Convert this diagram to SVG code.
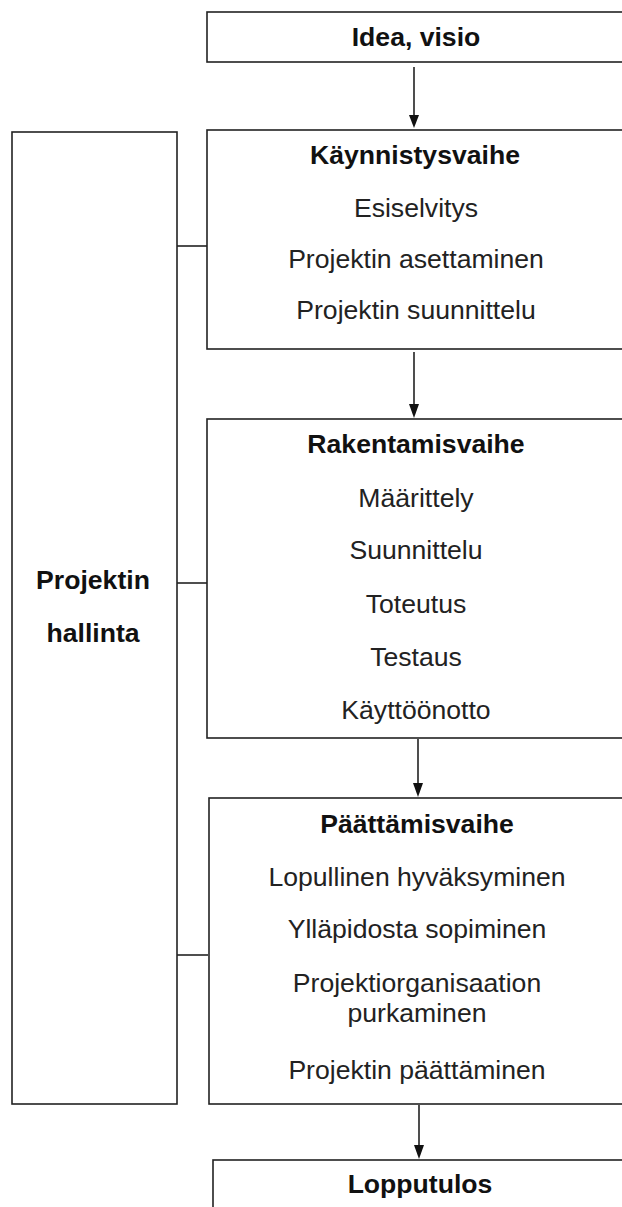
<svg xmlns="http://www.w3.org/2000/svg" width="622" height="1207" viewBox="0 0 622 1207">
<style>
.box{fill:#fff;stroke:#222;stroke-width:1.6}
.ln{stroke:#222;stroke-width:1.6;fill:none}
text{font-family:"Liberation Sans",Arial,sans-serif;font-size:26.6px;text-anchor:middle;fill:#222}
.b{font-weight:bold;fill:#111}
</style>
<defs>
<marker id="ah" markerWidth="10" markerHeight="12" refX="5" refY="12" orient="auto-start-reverse" markerUnits="userSpaceOnUse" viewBox="0 0 10 12">
<path d="M0,0 L10,0 L5,12 Z" fill="#111" transform="rotate(0)"/>
</marker>
</defs>
<rect width="622" height="1207" fill="#fff"/>
<g id="connectors">
<path class="ln" d="M414,67 V117"/><path d="M409,115 L419,115 L414,128 Z" fill="#111"/>
<path class="ln" d="M414,352 V406"/><path d="M409,404 L419,404 L414,418 Z" fill="#111"/>
<path class="ln" d="M418,739 V785"/><path d="M413,783 L423,783 L418,797 Z" fill="#111"/>
<path class="ln" d="M419,1105 V1146"/><path d="M414,1145 L424,1145 L419,1159 Z" fill="#111"/>
<path class="ln" d="M177,246 H207"/>
<path class="ln" d="M177,583 H207"/>
<path class="ln" d="M177,955 H208"/>
</g>
<g id="idea">
<rect class="box" x="207" y="12" width="430" height="50"/>
<text class="b" x="416" y="46">Idea, visio</text>
</g>
<g id="hallinta">
<rect class="box" x="12" y="132" width="165" height="972"/>
<text class="b" x="93" y="589">Projektin</text>
<text class="b" x="93" y="642">hallinta</text>
</g>
<g id="kaynnistys">
<rect class="box" x="207" y="130" width="430" height="219"/>
<text class="b" x="415" y="164">Käynnistysvaihe</text>
<text x="416" y="217">Esiselvitys</text>
<text x="416" y="268">Projektin asettaminen</text>
<text x="416" y="319">Projektin suunnittelu</text>
</g>
<g id="rakentamis">
<rect class="box" x="207" y="419" width="430" height="319"/>
<text class="b" x="416" y="453">Rakentamisvaihe</text>
<text x="416" y="507">Määrittely</text>
<text x="416" y="559">Suunnittelu</text>
<text x="416" y="613">Toteutus</text>
<text x="416" y="666">Testaus</text>
<text x="416" y="719">Käyttöönotto</text>
</g>
<g id="paattamis">
<rect class="box" x="209" y="798" width="430" height="306"/>
<text class="b" x="417" y="833">Päättämisvaihe</text>
<text x="417" y="886">Lopullinen hyväksyminen</text>
<text x="417" y="938">Ylläpidosta sopiminen</text>
<text x="417" y="992">Projektiorganisaation</text>
<text x="417" y="1022">purkaminen</text>
<text x="417" y="1079">Projektin päättäminen</text>
</g>
<g id="lopputulos">
<rect class="box" x="213" y="1160" width="430" height="80"/>
<text class="b" x="420" y="1193">Lopputulos</text>
</g>
</svg>
